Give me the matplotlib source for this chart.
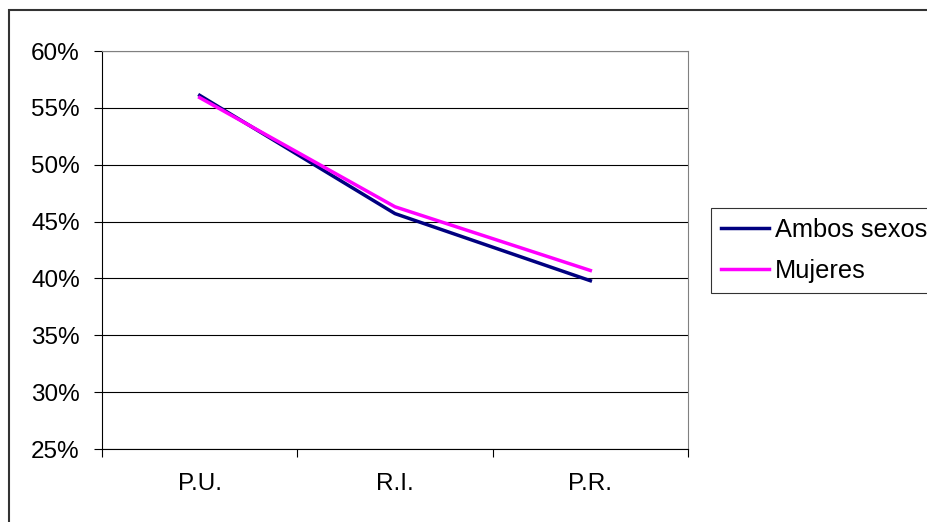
import numpy as np
import matplotlib.pyplot as plt
from matplotlib.patches import Rectangle

plt.rcParams['font.family'] = ['Liberation Sans', 'DejaVu Sans']

# --------------------------------------------------
# Data
# --------------------------------------------------

categories = ["P.U.", "R.I.", "P.R."]
ambos_sexos = [56.1, 45.7, 39.8]
mujeres = [55.9, 46.3, 40.7]
y_ticks = [25, 30, 35, 40, 45, 50, 55, 60]
y_labels = [f"{v}%" for v in y_ticks]

# --------------------------------------------------
# Figure
# --------------------------------------------------

fig = plt.figure(figsize=(9.28, 5.22), dpi=100)
ax = fig.add_axes([102 / 928, 1 - 449 / 522, (688 - 102) / 928, (449 - 51) / 522])

x = np.arange(len(categories))
ax.plot(x, ambos_sexos, color="#000080", lw=2.5, label="Ambos sexos", zorder=3)
ax.plot(x, mujeres, color="#FF00FF", lw=2.5, label="Mujeres", zorder=3)

ax.set_xlim(-0.5, len(categories) - 0.5)
ax.set_ylim(25, 60)

ax.set_yticks(y_ticks)
ax.set_yticklabels(y_labels)
ax.yaxis.grid(True, color="black", lw=0.8)
ax.set_axisbelow(True)

ax.set_xticks(np.arange(len(categories) + 1) - 0.5)
ax.set_xticklabels([])
ax.set_xticks(x, minor=True)
ax.set_xticklabels(categories, minor=True)

ax.tick_params(axis="y", direction="out", length=6, width=0.8, pad=10, labelsize=17.5)
ax.tick_params(axis="x", which="major", direction="out", length=6, width=0.8)
ax.tick_params(axis="x", which="minor", length=0, pad=17, labelsize=17.5)

for side in ["left", "bottom"]:
    ax.spines[side].set_color("black")
    ax.spines[side].set_linewidth(0.8)
for side in ["top", "right"]:
    ax.spines[side].set_color("#808080")
    ax.spines[side].set_linewidth(0.8)

leg = fig.legend(
    loc="upper left",
    bbox_to_anchor=(711 / 928, 1 - 208 / 522),
    frameon=True,
    fancybox=False,
    fontsize=18.3,
    handlelength=1.9,
    handletextpad=0.2,
    labelspacing=0.65,
    borderpad=0.4,
    borderaxespad=0,
)
leg.get_frame().set_edgecolor("black")
leg.get_frame().set_linewidth(0.8)
for line in leg.get_lines():
    line.set_linewidth(2.5)

# outer chart border (clipped at right and bottom)
border = Rectangle((9 / 928, -0.5), 2.0, 1.5 - 10 / 522,
                   transform=fig.transFigure, fill=False,
                   edgecolor="#333333", lw=1.5, clip_on=False)
fig.patches.append(border)

fig.savefig("out.png", dpi=100)
